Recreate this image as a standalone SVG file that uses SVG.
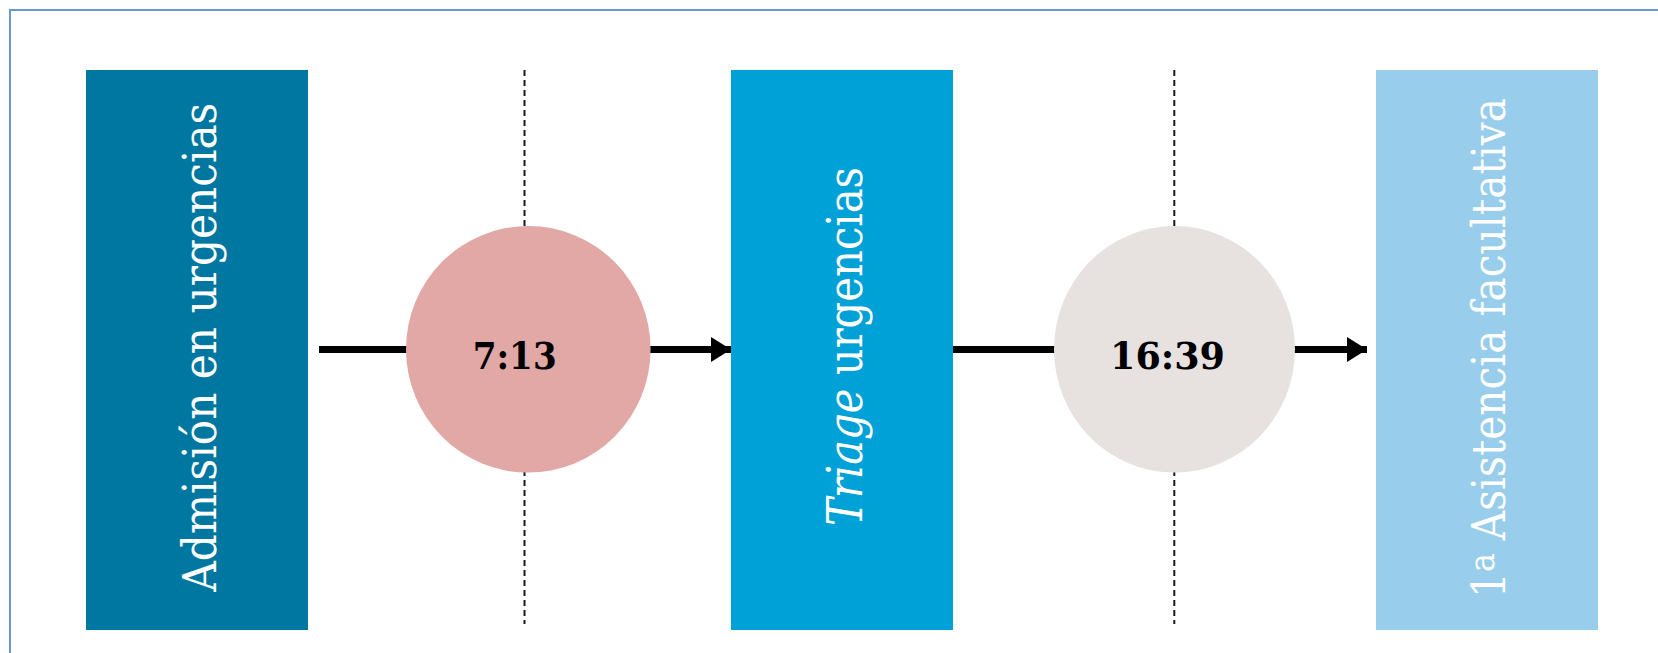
<svg xmlns="http://www.w3.org/2000/svg" width="1658" height="653" viewBox="0 0 1658 653">
<style>
.lbl{font-family:"DejaVu Serif","Liberation Serif",serif;fill:#ffffff;}
.num{font-family:"DejaVu Serif","Liberation Serif",serif;font-weight:bold;font-size:38px;fill:#000000;}
.dash{stroke:#1a1a1a;stroke-width:2;stroke-dasharray:6 4;fill:none;}
.conn{stroke:#000000;stroke-width:7;fill:none;}
</style>
<defs>
<marker id="arr" markerWidth="20" markerHeight="25" refX="20" refY="12.5" orient="auto" markerUnits="userSpaceOnUse">
<path d="M0,0 L20,12.5 L0,25 Z" fill="#000000"/>
</marker>
</defs>
<rect x="10" y="10" width="1700" height="700" fill="#ffffff" stroke="#6a98cf" stroke-width="2"/>
<g id="node-admision">
<rect x="86" y="70" width="222" height="560" fill="#0077A0"/>
<text class="lbl" font-size="46" transform="translate(215.5,591.7) rotate(-90)" textLength="489" lengthAdjust="spacingAndGlyphs">Admisión en urgencias</text>
</g>
<g id="node-triage">
<rect x="731" y="70" width="222" height="560" fill="#00A1D6"/>
<text class="lbl" font-size="48" transform="translate(862,526) rotate(-90)" textLength="359" lengthAdjust="spacingAndGlyphs"><tspan font-style="italic">Triage</tspan> urgencias</text>
</g>
<g id="node-asistencia">
<rect x="1376" y="70" width="222" height="560" fill="#98CDEC"/>
<text class="lbl" font-size="46" transform="translate(1505,598) rotate(-90)" textLength="500" lengthAdjust="spacingAndGlyphs">1<tspan font-size="36" dy="-11">a</tspan><tspan dy="11"> Asistencia facultativa</tspan></text>
</g>
<g id="connectors">
<line class="dash" x1="524.5" y1="70" x2="524.5" y2="624"/>
<line class="dash" x1="1174.3" y1="70" x2="1174.3" y2="624"/>
<line class="conn" x1="319" y1="349.5" x2="410" y2="349.5"/>
<line class="conn" x1="645" y1="349.5" x2="731" y2="349.5" marker-end="url(#arr)"/>
<line class="conn" x1="953" y1="349.5" x2="1060" y2="349.5"/>
<line class="conn" x1="1290" y1="349.5" x2="1367" y2="349.5" marker-end="url(#arr)"/>
</g>
<g id="node-t1">
<ellipse cx="528.3" cy="349.3" rx="122.3" ry="123.3" fill="#E1A8A6"/>
<text class="num" x="472.7" y="369" textLength="84" lengthAdjust="spacingAndGlyphs">7:13</text>
</g>
<g id="node-t2">
<ellipse cx="1174.5" cy="349.3" rx="120.5" ry="123.3" fill="#E7E2E0"/>
<text class="num" x="1110" y="369" textLength="115" lengthAdjust="spacingAndGlyphs">16:39</text>
</g>
</svg>
